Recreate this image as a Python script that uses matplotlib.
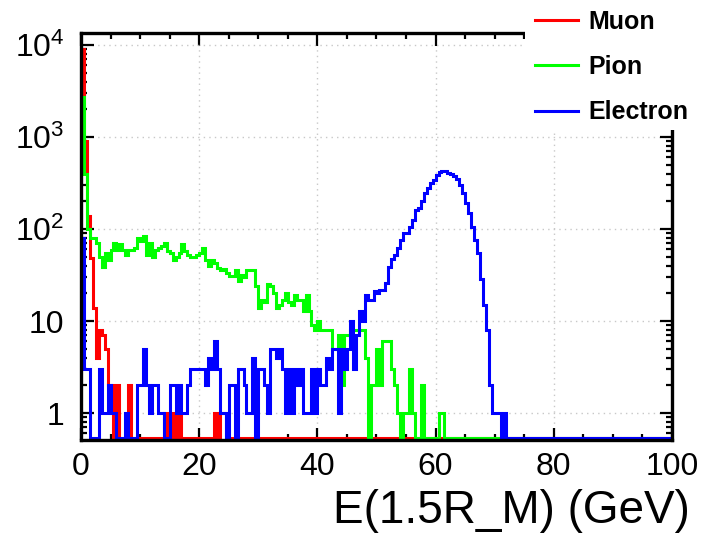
import numpy as np
import matplotlib
matplotlib.use('Agg')
import matplotlib.pyplot as plt
from matplotlib.ticker import MultipleLocator, LogLocator, FixedLocator, FixedFormatter, NullFormatter
from matplotlib.lines import Line2D
from matplotlib.patches import Rectangle

plt.rcParams['font.family'] = ['Liberation Sans', 'DejaVu Sans']
plt.rcParams['mathtext.fontset'] = 'custom'
plt.rcParams['mathtext.rm'] = 'Liberation Sans'
plt.rcParams['mathtext.it'] = 'Liberation Sans'

# histogram: 200 bins of 0.5 GeV from 0 to 100 GeV (bins not listed are empty)
n_bins = 200
e_min, e_max = 0, 100

muon = [9000, 900, 140, 48, 14, 4, 8, 7, 5, 2, 2, 0, 2, 0, 0, 0, 2, 0, 0, 0,
        0, 0, 0, 0, 0, 0, 0, 0, 1, 0, 0, 1, 0, 1, 0, 0, 0, 0, 0, 0,
        0, 0, 0, 0, 0, 1, 0, 1, 1]

pion = [2700, 400, 100, 80, 80, 70, 50, 39, 55, 46,
        59, 70, 59, 68, 59, 52, 59, 59, 62, 80, 75, 83, 52, 70, 50, 59, 62, 65, 70, 57,
        55, 46, 50, 55, 68, 57, 52, 50, 50, 52, 55, 62, 46, 40,
        46, 43, 38, 36, 37, 33, 31, 31, 36, 27, 32, 30, 36, 36, 36, 24, 14, 17, 16, 25,
        24, 20, 14, 15, 17, 20, 16,
        15, 19, 17, 17, 13, 19, 13, 9, 8, 10, 8, 8, 8, 8, 5, 5, 7, 2, 7, 7,
        8, 8, 8, 8, 8, 4, 0,
        2, 2, 5, 2, 6, 6, 6, 3, 2, 1, 0, 1, 1, 3, 1, 0, 0, 2, 0, 0, 0, 0, 0, 1, 1]

electron = [80, 3, 3, 0, 0, 0, 3, 1, 1, 2,
            1, 1, 0, 0, 0, 1, 0, 0, 0, 2,
            2, 5, 2, 1, 2, 2, 1, 1, 0, 0, 2, 2, 1, 2, 1, 1, 2, 3, 3, 3,
            3, 3, 2, 4, 3, 6, 3, 1, 1, 0, 2, 2, 0, 3, 3, 2, 1, 1, 4, 0,
            3, 3, 2, 1, 5, 5, 4, 5, 3, 1, 3,
            1, 3, 2, 3, 1, 1, 1, 3, 1, 3, 2, 2, 4, 3, 5, 5, 1, 5, 3, 5,
            10, 3, 7, 13, 10, 19, 17, 17, 21,
            20, 22, 22, 26, 39, 47, 52, 63, 76, 90, 90, 106, 125, 160, 168, 200,
            244, 280, 320, 345, 386, 420, 430, 425, 410, 400, 380, 350, 300, 245,
            190, 148, 106, 76, 55, 29, 15, 8, 2, 1, 1, 1, 0, 1]

labels = ['Muon', 'Pion', 'Electron']
colors = ['#ff0000', '#00ff00', '#0000ff']

y_min, y_max = 0.51, 13500
edges = np.linspace(e_min, e_max, n_bins + 1)


def full_hist(vals):
    h = np.zeros(n_bins)
    h[:len(vals)] = vals
    # empty bins sit on the bottom of the frame, as ROOT draws them on log scale
    h[h <= 0] = y_min * 1.05
    return h


fig = plt.figure(figsize=(7.08, 5.4), dpi=100)
ax = fig.add_axes([0.1144, 0.1852, 0.8347, 0.7537])

for vals, col in zip([muon, pion, electron], colors):
    ax.stairs(full_hist(vals), edges, baseline=None, color=col, lw=2.2)

ax.set_yscale('log')
ax.set_xlim(e_min, e_max)
ax.set_ylim(y_min, y_max)

ax.xaxis.set_major_locator(MultipleLocator(20))
ax.xaxis.set_minor_locator(MultipleLocator(5))
ax.yaxis.set_major_locator(FixedLocator([1, 10, 100, 1000, 10000]))
ax.yaxis.set_major_formatter(FixedFormatter(['1', '10', r'$10^{2}$', r'$10^{3}$', r'$10^{4}$']))
ax.yaxis.set_minor_locator(LogLocator(base=10, subs=np.arange(2, 10)))
ax.yaxis.set_minor_formatter(NullFormatter())

ax.tick_params(which='both', direction='in', top=True, right=True, labelsize=23, width=1.6)
ax.tick_params(which='major', length=9)
ax.tick_params(which='minor', length=4.5)
ax.tick_params(axis='x', pad=9)
ax.tick_params(axis='y', pad=12)

ax.grid(True, which='major', ls=(0, (1, 3)), color='#c8c8c8', lw=1)
ax.set_axisbelow(True)
for sp in ax.spines.values():
    sp.set_linewidth(2.4)

ax.set_xlabel('E(1.5R_M) (GeV)', fontsize=33, ha='right')
ax.xaxis.set_label_coords(1.03, -0.12)

# white legend box over the top-right corner of the frame
fig.patches.append(Rectangle((0.7415, 0.759), 0.26, 0.25, transform=fig.transFigure,
                             facecolor='white', edgecolor='none', zorder=3))
handles = [Line2D([], [], color=c, lw=2.2) for c in colors]
fig.legend(handles, labels, loc='upper left', bbox_to_anchor=(0.738, 1.005),
           frameon=False, prop={'weight': 'bold', 'size': 18},
           borderaxespad=0.2, borderpad=0.3,
           handlelength=1.7, handletextpad=0.45, labelspacing=0.85)

fig.savefig('out.png', dpi=100)
